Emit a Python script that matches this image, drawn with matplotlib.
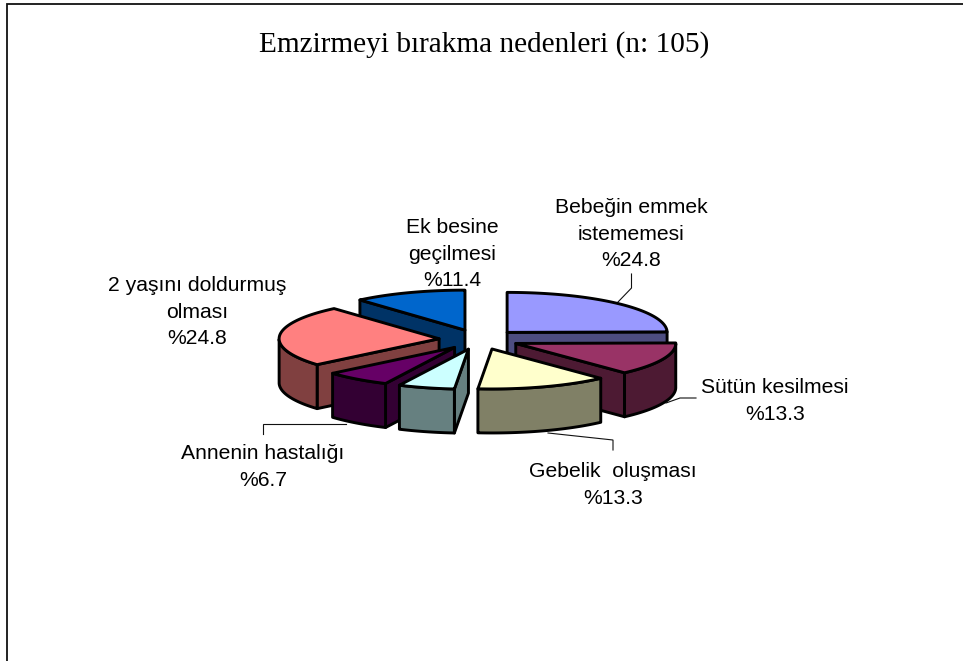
import numpy as np
import matplotlib
matplotlib.use('Agg')
import matplotlib.pyplot as plt
from matplotlib.patches import Polygon

title = 'Emzirmeyi bırakma nedenleri (n: 105)'
categories = ['Bebeğin emmek\nistememesi', 'Sütün kesilmesi', 'Gebelik  oluşması', None,
              'Annenin hastalığı', '2 yaşını doldurmuş\nolması', 'Ek besine\ngeçilmesi']
percents = [24.8, 13.3, 13.3, 5.7, 6.7, 24.8, 11.4]
top_colors = ['#9999FF', '#993366', '#FFFFCC', '#CCFFFF', '#660066', '#FF8080', '#0066CC']
side_colors = ['#4D4D80', '#4D1A33', '#808066', '#668080', '#330033', '#804040', '#003366']

# pie geometry in pixels
cx, cy = 479, 339.5
rx, ry = 160, 40
explode = 40
depth = 44
lw = 2.1

# label centres, same order as categories
label_pos = [(631, 234), (775, 401), (613, 485), None, (263, 467), (197, 312), (452, 254)]

fig = plt.figure(figsize=(9.63, 6.61), dpi=100)
ax = fig.add_axes([0, 0, 1, 1])
ax.set_xlim(0, 963)
ax.set_ylim(661, 0)
ax.axis('off')


def point(ax0, ay0, deg):
    return ax0 + rx * np.cos(np.radians(deg)), ay0 - ry * np.sin(np.radians(deg))


def face(pts, color, z):
    ax.add_patch(Polygon(pts, closed=True, facecolor=color, edgecolor='black',
                         linewidth=lw, joinstyle='round', zorder=z))


wedges = []
start = 90.0
for i, p in enumerate(percents):
    end = start - p * 3.6
    mid = np.radians((start + end) / 2)
    ox = cx + explode * np.cos(mid)
    oy = cy - explode * ry / rx * np.sin(mid)
    wedges.append((oy, i, ox, start, end))
    start = end

# back to front
for n, (oy, i, ox, a0, a1) in enumerate(sorted(wedges)):
    z = 2 + n
    angles = np.linspace(a0, a1, 80)
    arc = np.array([point(ox, oy, a) for a in angles])
    top = np.vstack([[ox, oy], arc])
    centre = top.mean(axis=0)

    # flat sides, only the ones turned towards the viewer
    for rim in (arc[0], arc[-1]):
        d = rim - np.array([ox, oy])
        normal = np.array([-d[1], d[0]])
        if np.dot(normal, centre - [ox, oy]) > 0:
            normal = -normal
        if normal[1] > 0:
            face([(ox, oy), rim, rim + [0, depth], (ox, oy + depth)], side_colors[i], z)

    # curved side, lower half of the ellipse only
    front = arc[arc[:, 1] >= oy]
    if len(front) > 1:
        face(np.vstack([front, (front + [0, depth])[::-1]]), side_colors[i], z)

    face(top, top_colors[i], z)

# leader lines
leaders = [
    ([631.5, 631.5, 618], [274, 288, 302]),
    ([696, 680, 666], [398, 398, 403]),
    ([613, 613, 548], [450, 440, 433]),
    ([263, 263, 346], [434, 424, 424]),
]
for xs, ys in leaders:
    ax.plot(xs, ys, color='#111111', lw=0.8, zorder=1, solid_joinstyle='miter')

for name, pct, pos in zip(categories, percents, label_pos):
    if name is None:
        continue
    ax.text(pos[0], pos[1], f'{name}\n%{pct}', ha='center', va='center', multialignment='center',
            family='Liberation Sans', fontsize=15.2, linespacing=1.5, color='black', zorder=20)

ax.text(484, 52, title, ha='center', va='baseline', family='Liberation Serif', fontsize=21.1,
        color='black', zorder=20)

# chart frame, cut by the page on the right and at the bottom
ax.plot([6.8, 6.8, 963], [661, 3.6, 3.6], color='#111111', lw=1.3, zorder=1, solid_joinstyle='miter')

fig.savefig('out.png', dpi=100)
